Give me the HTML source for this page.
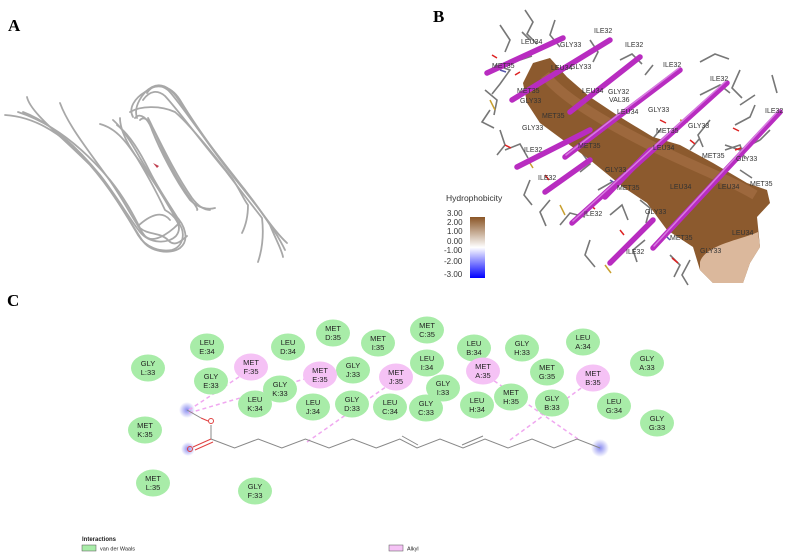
<!DOCTYPE html>
<html><head><meta charset="utf-8"><style>
html,body{margin:0;padding:0;background:#fff;}
svg{display:block;}
.lbl{font-family:"Liberation Serif",serif;font-weight:bold;font-size:17px;fill:#000;}
.r{font-family:"Liberation Sans",sans-serif;font-size:7.5px;fill:#222;text-anchor:middle;}
.b{font-family:"Liberation Sans",sans-serif;font-size:7px;fill:#333;}
</style></head><body>
<svg width="791" height="556" viewBox="0 0 791 556" xmlns="http://www.w3.org/2000/svg">
<rect width="791" height="556" fill="#fff"/>
<text class="lbl" x="8" y="31">A</text>
<text class="lbl" x="433" y="22">B</text>
<text class="lbl" x="7" y="306">C</text>

<!-- Panel A ribbons -->
<g fill="none" stroke="#a8a8a8" stroke-width="1.8" stroke-linecap="round">
<path d="M5,115 C40,117 70,140 95,170 C115,195 130,222 142,240 C150,252 170,255 180,248 C190,240 185,225 175,215 C165,200 150,175 135,155 C125,140 115,128 100,124"/>
<path d="M27,97 C30,112 60,135 90,165 C112,190 128,218 138,235 C146,248 160,252 172,250 C184,246 186,232 178,222 C168,205 152,178 140,158 C130,140 120,126 113,120"/>
<path d="M23,112 C50,122 78,148 100,175 C118,198 130,220 140,232 C150,244 168,244 176,236 C184,226 174,215 165,210 C158,195 145,170 132,150 C124,138 120,126 120,118"/>
<path d="M60,103 C68,125 88,150 108,178 C124,200 134,222 145,236 C155,246 175,228 180,222 C172,208 160,192 150,172 C140,152 130,135 117,125"/>
<path d="M18,112 C55,124 85,150 110,180 C126,200 135,218 140,228 C148,235 160,232 168,240 C175,248 182,240 187,236"/>
<path d="M138,226 C150,215 162,210 170,220"/>
<path d="M133,117 C128,108 135,98 145,92 C155,83 170,84 180,100 C195,125 220,160 245,190 C262,212 278,235 285,250"/>
<path d="M137,118 C133,106 143,92 152,87 C162,82 172,88 182,105 C198,130 222,163 248,195 C265,216 275,232 287,243"/>
<path d="M147,93 C152,85 160,84 168,90 C178,100 196,128 220,158 C240,184 258,206 270,225 C276,240 282,250 283,257"/>
<path d="M143,100 C150,90 158,90 165,96 C178,110 200,140 225,170 C240,190 252,205 262,218 C264,235 262,250 258,262"/>
<path d="M130,112 C140,106 160,105 175,112 C190,125 210,150 232,178 C240,190 244,200 248,205 C248,215 246,225 242,233"/>
<path d="M135,118 C140,112 148,118 152,130 C160,150 175,180 190,200 C198,208 208,210 215,208"/>
<path d="M140,120 C145,115 150,122 155,132 C165,152 178,178 192,198 C198,206 204,210 210,210"/>
<path d="M148,118 C152,125 158,140 165,155 C175,175 185,192 195,205 C197,208 198,210 197,210"/>
</g>
<path d="M153,163 l6,3 -2,2z" fill="#c04050"/>

<!-- Panel B -->
<g stroke="#777" stroke-width="1.6" fill="none">
<path d="M500,25 l10,15 l-5,12 M525,10 l8,12 l-6,12 l10,10 M555,20 l-5,15 l10,12 M590,40 l8,12 l-5,10 M620,60 l12,-6 l10,10 M645,75 l8,-10 M700,62 l15,-8 l14,5 M740,70 l-8,18 l10,10 M772,75 l5,18 M700,95 l20,-10 l10,8 M740,105 l15,-10 M760,140 l-20,10 l-15,-5 M495,65 l15,5 l-10,14 l-8,10 M485,90 l12,10 l-3,15 M490,110 l-8,12 l12,6 M500,130 l5,15 l-8,10 M505,150 l15,-6 l8,14 M530,180 l-6,15 l8,10 M550,200 l-10,12 l6,14 M560,225 l10,-12 l15,4 M590,240 l-5,15 l10,12 M610,215 l12,-10 l6,15 M640,200 l10,8 l-4,15 M680,210 l10,-12 l12,6 M700,245 l15,5 l-3,15 M710,120 l-12,15 l5,12 M725,150 l15,-5 l5,14 M740,170 l12,8 M620,120 l-12,10 l5,12 M660,130 l-10,12 l14,8 M690,150 l10,-12 M600,140 l15,5 M580,150 l10,14 l-10,8 M560,110 l10,-10 l12,5 M540,90 l14,8 M520,60 l12,-4 M530,40 l-8,-8 M645,240 l-12,10 l4,12 M670,255 l10,10 l-6,12 M598,190 l14,-8 M625,170 l10,10 M735,125 l15,-8 l5,-12 M770,130 l-10,10 M690,260 l-8,15 l6,10"/>
</g>
<g stroke-width="1.5">
<path d="M492,55 l5,3 M515,75 l5,-3 M560,88 l6,3 M600,125 l5,4 M660,120 l6,3 M690,140 l5,4 M735,150 l6,-2 M590,205 l5,4 M620,230 l4,5 M655,205 l6,2 M720,180 l6,4 M505,145 l6,3 M545,175 l4,5 M733,128 l6,3 M672,258 l6,5" stroke="#d22"/>
<path d="M500,70 l6,2 M570,100 l5,3 M640,145 l5,-3 M700,175 l4,5 M610,180 l5,3 M665,235 l5,5 M712,225 l5,4" stroke="#55a"/>
<path d="M490,100 l5,10 M528,160 l5,8 M560,205 l5,10 M605,265 l6,8 M680,120 l8,2 M700,170 l8,-2" stroke="#c9a030"/>
</g>
<path d="M523,83 L533,63 L550,58 L567,77 L590,97 L620,117 L653,137 L680,145 L713,163 L747,183 L767,190 L770,203 L757,217 L760,247 L750,263 L743,283 L713,283 L700,270 L693,247 L667,230 L647,203 L623,187 L590,160 L563,140 L540,123 L527,103 Z" fill="#8c5a2e"/>
<path d="M700,262 C705,245 740,240 758,232 L760,247 L750,263 L743,283 L713,283 L700,270 Z" fill="#dbb89c"/>
<path d="M545,75 C560,95 600,120 650,145 C690,165 730,180 755,195" stroke="#a87248" stroke-width="10" fill="none" opacity="0.6"/>
<g stroke="#b82cc0" stroke-width="5.5" stroke-linecap="round">
<line x1="487" y1="73" x2="563" y2="38"/>
<line x1="512" y1="100" x2="610" y2="40"/>
<line x1="570" y1="112" x2="640" y2="57"/>
<line x1="565" y1="157" x2="680" y2="70"/>
<line x1="517" y1="167" x2="590" y2="130"/>
<line x1="545" y1="192" x2="590" y2="160"/>
<line x1="572" y1="223" x2="727" y2="83"/>
<line x1="610" y1="263" x2="653" y2="220"/>
<line x1="653" y1="248" x2="780" y2="112"/>
<line x1="605" y1="197" x2="650" y2="150"/>
</g>
<g stroke="#e090ea" stroke-width="1.5" stroke-linecap="round" opacity="0.8">
<line x1="573" y1="221" x2="726" y2="81"/>
<line x1="654" y1="246" x2="779" y2="110"/>
<line x1="566" y1="155" x2="679" y2="68"/>
</g>
<g class="b">
<text x="521" y="44">LEU34</text><text x="560" y="47">GLY33</text><text x="594" y="33">ILE32</text>
<text x="625" y="47">ILE32</text><text x="492" y="68">MET35</text><text x="551" y="70">LEU34</text>
<text x="570" y="69">GLY33</text><text x="663" y="67">ILE32</text><text x="517" y="93">MET35</text>
<text x="582" y="93">LEU34</text><text x="608" y="94">GLY32</text><text x="609" y="102">VAL36</text>
<text x="710" y="81">ILE32</text><text x="520" y="103">GLY33</text><text x="542" y="118">MET35</text>
<text x="617" y="114">LEU34</text><text x="648" y="112">GLY33</text><text x="765" y="113">ILE32</text>
<text x="522" y="130">GLY33</text><text x="578" y="148">MET35</text><text x="656" y="133">MET35</text>
<text x="688" y="128">GLY33</text><text x="524" y="152">ILE32</text><text x="653" y="150">LEU34</text>
<text x="702" y="158">MET35</text><text x="736" y="161">GLY33</text><text x="538" y="180">ILE32</text>
<text x="605" y="172">GLY33</text><text x="617" y="190">MET35</text><text x="750" y="186">MET35</text>
<text x="670" y="189">LEU34</text><text x="718" y="189">LEU34</text><text x="584" y="216">ILE32</text>
<text x="645" y="214">GLY33</text><text x="732" y="235">LEU34</text><text x="670" y="240">MET35</text>
<text x="626" y="254">ILE32</text><text x="700" y="253">GLY33</text>
</g>
<text x="446" y="201" style="font-family:'Liberation Sans',sans-serif;font-size:8.5px;fill:#333">Hydrophobicity</text>
<defs><linearGradient id="hg" x1="0" y1="0" x2="0" y2="1">
<stop offset="0" stop-color="#8a5526"/><stop offset="0.5" stop-color="#ffffff"/><stop offset="1" stop-color="#0000ff"/></linearGradient></defs>
<rect x="470" y="217" width="15" height="61" fill="url(#hg)"/>
<g style="font-family:'Liberation Sans',sans-serif;font-size:8px;fill:#333">
<text x="447" y="216">3.00</text><text x="447" y="225">2.00</text><text x="447" y="234">1.00</text>
<text x="447" y="244">0.00</text><text x="444" y="253">-1.00</text><text x="444" y="264">-2.00</text><text x="444" y="277">-3.00</text>
</g>

<!-- Panel C -->
<defs><radialGradient id="blob"><stop offset="0" stop-color="#8a8cf0"/><stop offset="1" stop-color="#8a8cf0" stop-opacity="0"/></radialGradient></defs>
<circle cx="187" cy="410" r="8" fill="url(#blob)"/>
<circle cx="188" cy="449" r="7" fill="url(#blob)"/>
<circle cx="600" cy="448" r="9" fill="url(#blob)"/>
<g stroke="#f0a8f0" stroke-width="1.5" stroke-dasharray="4,3" fill="none">
<line x1="189" y1="410" x2="245" y2="373"/>
<line x1="189" y1="413" x2="308" y2="378"/>
<line x1="307" y1="442" x2="390" y2="384"/>
<line x1="578" y1="439" x2="490" y2="378"/>
<line x1="510" y1="440" x2="584" y2="386"/>
</g>
<g stroke="#888" stroke-width="1" fill="none">
<polyline points="187,410 201,418"/>
<polyline points="211,439 234.6,448 258.2,439 281.8,448 305.4,439 329,448 352.6,439 376.2,448 399.8,439 417,448 440,439 463,448 485,439 508,448 532,439 554,448 577,439 600,448"/>
<line x1="211" y1="425" x2="211" y2="439"/>
<line x1="402" y1="436" x2="418" y2="445"/>
<line x1="462" y1="445" x2="483" y2="436"/>
<line x1="211" y1="439" x2="193" y2="447" stroke="#e04040"/>
<line x1="213" y1="442" x2="195" y2="450" stroke="#e04040"/>
<line x1="201" y1="418" x2="208" y2="421" stroke="#e04040"/>
</g>
<circle cx="211" cy="421" r="2.5" fill="none" stroke="#e04040" stroke-width="1"/>
<circle cx="190" cy="449" r="2.5" fill="none" stroke="#e04040" stroke-width="1"/>

<g fill="#a8eca8">
<ellipse cx="148" cy="368" rx="17" ry="13.5"/><ellipse cx="207" cy="347" rx="17" ry="13.5"/>
<ellipse cx="333" cy="333" rx="17" ry="13.5"/><ellipse cx="288" cy="347" rx="17" ry="13.5"/>
<ellipse cx="378" cy="343" rx="17" ry="13.5"/><ellipse cx="211" cy="381" rx="17" ry="13.5"/>
<ellipse cx="353" cy="370" rx="17" ry="13.5"/><ellipse cx="280" cy="389" rx="17" ry="13.5"/>
<ellipse cx="255" cy="404" rx="17" ry="13.5"/><ellipse cx="313" cy="407" rx="17" ry="13.5"/>
<ellipse cx="352" cy="404" rx="17" ry="13.5"/><ellipse cx="390" cy="407" rx="17" ry="13.5"/>
<ellipse cx="145" cy="430" rx="17" ry="13.5"/><ellipse cx="153" cy="483" rx="17" ry="13.5"/>
<ellipse cx="255" cy="491" rx="17" ry="13.5"/><ellipse cx="427" cy="330" rx="17" ry="13.5"/>
<ellipse cx="474" cy="348" rx="17" ry="13.5"/><ellipse cx="522" cy="348" rx="17" ry="13.5"/>
<ellipse cx="583" cy="342" rx="17" ry="13.5"/><ellipse cx="647" cy="363" rx="17" ry="13.5"/>
<ellipse cx="427" cy="363" rx="17" ry="13.5"/><ellipse cx="547" cy="372" rx="17" ry="13.5"/>
<ellipse cx="443" cy="388" rx="17" ry="13.5"/><ellipse cx="511" cy="397" rx="17" ry="13.5"/>
<ellipse cx="552" cy="403" rx="17" ry="13.5"/><ellipse cx="477" cy="405" rx="17" ry="13.5"/>
<ellipse cx="426" cy="408" rx="17" ry="13.5"/><ellipse cx="614" cy="406" rx="17" ry="13.5"/>
<ellipse cx="657" cy="423" rx="17" ry="13.5"/>
</g>
<g fill="#f5c2f5">
<ellipse cx="251" cy="367" rx="17" ry="13.5"/><ellipse cx="320" cy="375" rx="17" ry="13.5"/>
<ellipse cx="396" cy="377" rx="17" ry="13.5"/><ellipse cx="483" cy="371" rx="17" ry="13.5"/>
<ellipse cx="593" cy="378" rx="17" ry="13.5"/>
</g>
<g class="r">
<text x="148" y="366">GLY</text><text x="148" y="375">L:33</text>
<text x="207" y="345">LEU</text><text x="207" y="354">E:34</text>
<text x="333" y="331">MET</text><text x="333" y="340">D:35</text>
<text x="288" y="345">LEU</text><text x="288" y="354">D:34</text>
<text x="378" y="341">MET</text><text x="378" y="350">I:35</text>
<text x="211" y="379">GLY</text><text x="211" y="388">E:33</text>
<text x="353" y="368">GLY</text><text x="353" y="377">J:33</text>
<text x="280" y="387">GLY</text><text x="280" y="396">K:33</text>
<text x="255" y="402">LEU</text><text x="255" y="411">K:34</text>
<text x="313" y="405">LEU</text><text x="313" y="414">J:34</text>
<text x="352" y="402">GLY</text><text x="352" y="411">D:33</text>
<text x="390" y="405">LEU</text><text x="390" y="414">C:34</text>
<text x="145" y="428">MET</text><text x="145" y="437">K:35</text>
<text x="153" y="481">MET</text><text x="153" y="490">L:35</text>
<text x="255" y="489">GLY</text><text x="255" y="498">F:33</text>
<text x="427" y="328">MET</text><text x="427" y="337">C:35</text>
<text x="474" y="346">LEU</text><text x="474" y="355">B:34</text>
<text x="522" y="346">GLY</text><text x="522" y="355">H:33</text>
<text x="583" y="340">LEU</text><text x="583" y="349">A:34</text>
<text x="647" y="361">GLY</text><text x="647" y="370">A:33</text>
<text x="427" y="361">LEU</text><text x="427" y="370">I:34</text>
<text x="547" y="370">MET</text><text x="547" y="379">G:35</text>
<text x="443" y="386">GLY</text><text x="443" y="395">I:33</text>
<text x="511" y="395">MET</text><text x="511" y="404">H:35</text>
<text x="552" y="401">GLY</text><text x="552" y="410">B:33</text>
<text x="477" y="403">LEU</text><text x="477" y="412">H:34</text>
<text x="426" y="406">GLY</text><text x="426" y="415">C:33</text>
<text x="614" y="404">LEU</text><text x="614" y="413">G:34</text>
<text x="657" y="421">GLY</text><text x="657" y="430">G:33</text>
<text x="251" y="365">MET</text><text x="251" y="374">F:35</text>
<text x="320" y="373">MET</text><text x="320" y="382">E:35</text>
<text x="396" y="375">MET</text><text x="396" y="384">J:35</text>
<text x="483" y="369">MET</text><text x="483" y="378">A:35</text>
<text x="593" y="376">MET</text><text x="593" y="385">B:35</text>
</g>

<text x="82" y="541" style="font-family:'Liberation Sans',sans-serif;font-size:6px;font-weight:bold;fill:#222">Interactions</text>
<rect x="82" y="545" width="14" height="6" fill="#a8eca8" stroke="#555" stroke-width="0.5"/>
<text x="100" y="550.5" style="font-family:'Liberation Sans',sans-serif;font-size:5.5px;fill:#222">van der Waals</text>
<rect x="389" y="545" width="14" height="6" fill="#f5c2f5" stroke="#555" stroke-width="0.5"/>
<text x="407" y="550.5" style="font-family:'Liberation Sans',sans-serif;font-size:5.5px;fill:#222">Alkyl</text>
</svg>
</body></html>
